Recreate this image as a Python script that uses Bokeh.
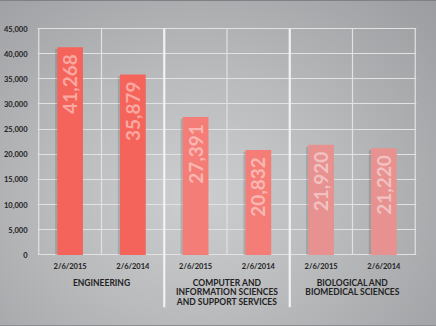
import math
from bokeh.plotting import figure
from bokeh.models import Range1d, FixedTicker, NumeralTickFormatter, ColumnDataSource
from bokeh.core.properties import value
from bokeh.embed import file_html
from bokeh.resources import INLINE

# ---- data ----
groups = ["ENGINEERING",
          "COMPUTER AND\nINFORMATION SCIENCES\nAND SUPPORT SERVICES",
          "BIOLOGICAL AND\nBIOMEDICAL SCIENCES"]
dates = ["2/6/2015", "2/6/2014"]
engineering = [41268, 35879]
computer = [27391, 20832]
biological = [21920, 21220]
group_colors = ["#F5645A", "#F47E77", "#E79291"]
y_ticks = [0, 5000, 10000, 15000, 20000, 25000, 30000, 35000, 40000, 45000]

series = [engineering, computer, biological]
nd = len(dates)
xs, tops, cols, date_lbl, val_lbl = [], [], [], [], []
for g, vals in enumerate(series):
    for d, v in enumerate(vals):
        xs.append(g * nd + d)
        tops.append(v)
        cols.append(group_colors[g])
        date_lbl.append(dates[d])
        val_lbl.append(f"{v:,}")
src = ColumnDataSource(dict(x=xs, top=tops, color=cols, date=date_lbl, lbl=val_lbl,
                            xs=[x - 0.035 for x in xs], stop=[t - 350 for t in tops]))
ncol = len(xs)
ymax = y_ticks[-1]

FONT = value("Lato")

p = figure(width=436, height=326, output_backend="svg", toolbar_location=None,
           x_range=Range1d(-0.52, ncol - 0.48), y_range=Range1d(-10450, ymax + 200),
           x_axis_location=None, min_border_left=33, min_border_right=20,
           min_border_top=27, min_border_bottom=19)
p.border_fill_alpha = 0
p.background_fill_alpha = 0
p.outline_line_color = None
p.styles = {"background": "radial-gradient(ellipse 75% 85% at 45% 60%, #cdced0 0%, #b9babc 45%, #9c9da0 100%)",
            "box-shadow": "inset 0 1px 0 #808184, inset 0 -1px 0 #8d8e91"}

# y axis
ax = p.yaxis[0]
ax.ticker = FixedTicker(ticks=y_ticks)
ax.formatter = NumeralTickFormatter(format="0,0")
ax.axis_line_color = None
ax.major_tick_line_color = None
ax.minor_tick_line_color = None
ax.major_label_standoff = 4
ax.major_label_text_font = "Lato"
ax.major_label_text_font_style = "bold"
ax.major_label_text_font_size = "7.5px"
ax.major_label_text_color = "#222222"

p.xgrid.visible = False
p.ygrid.ticker = FixedTicker(ticks=y_ticks)
p.ygrid.grid_line_color = "#e2e2e2"
p.ygrid.grid_line_width = 1.2

# vertical thin grid lines (column boundaries inside groups and edges)
bounds = [k - 0.5 for k in range(ncol + 1)]
seps = [g * nd - 0.5 for g in range(1, len(groups))]
thin = [b for b in bounds if b not in seps]
p.segment(x0=thin, x1=thin, y0=[0] * len(thin), y1=[ymax] * len(thin),
          line_color="#e2e2e2", line_width=1.2)
p.segment(x0=seps, x1=seps, y0=[-10450] * len(seps), y1=[ymax] * len(seps),
          line_color="#f2f2f2", line_width=2.2)

# bars with subtle shadow
p.vbar(x="xs", top="stop", bottom=0, width=0.41, source=src,
       fill_color="#000000", fill_alpha=0.13, line_color=None)
p.vbar(x="x", top="top", bottom=0, width=0.41, source=src,
       fill_color="color", line_color=None)

# value labels (rotated)
p.text(x="x", y="top", text="lbl", source=src, angle=math.pi / 2,
       text_align="right", text_baseline="middle", y_offset=7,
       text_font=FONT, text_font_style="bold", text_font_size="19px",
       text_color="#ffffff", text_alpha=0.45)

# date labels
p.text(x="x", y=0, text="date", source=src, y_offset=11.5,
       text_align="center", text_baseline="middle",
       text_font=FONT, text_font_style="bold", text_font_size="7.5px",
       text_color="#222222")

# group labels
gx = [g * nd + (nd - 1) / 2 for g in range(len(groups))]
p.text(x=gx, y=[0] * len(groups), text=groups, y_offset=23,
       text_align="center", text_baseline="top", text_line_height=0.95,
       text_font=FONT, text_font_style="bold", text_font_size="8.5px",
       text_color="#222222")

open("out.html", "w").write(file_html(p, INLINE))
